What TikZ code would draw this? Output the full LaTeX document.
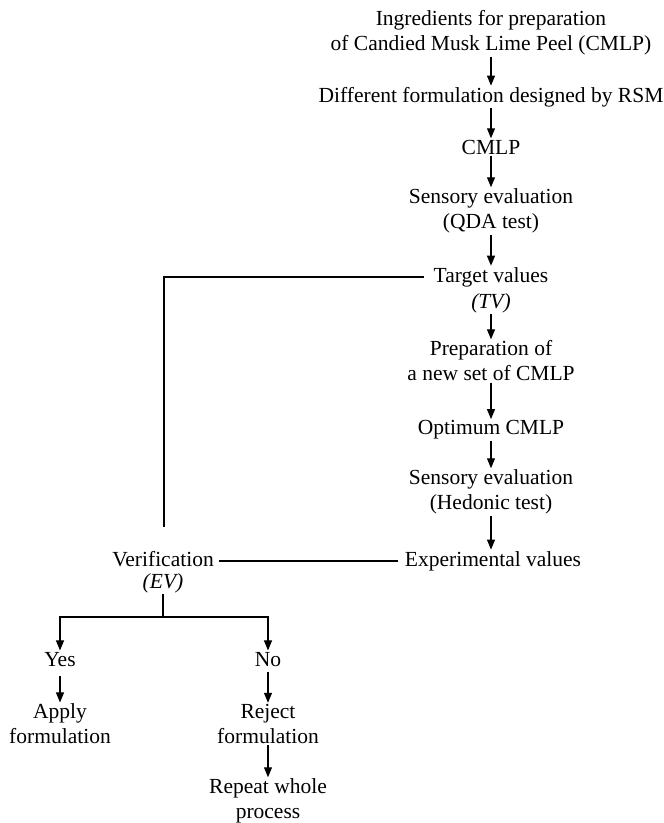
\documentclass[tikz,border=0pt]{standalone}
\usepackage{fontspec}
\setmainfont{Liberation Serif}
\usetikzlibrary{arrows.meta}
\tikzset{
  lbl/.style={align=center, inner sep=1.5pt, outer sep=0pt, font=\fontsize{21.5}{25}\selectfont},
  conn/.style={line width=1.1pt},
  arr/.style={conn, -{Triangle[length=10pt,width=8pt]}}
}
\begin{document}
\begin{tikzpicture}[x=1pt,y=-1pt]
\useasboundingbox (0,0) rectangle (664,823);
\node[lbl] (ing) at (491,33) {Ingredients for preparation\\of Candied Musk Lime Peel (CMLP)};
\node[lbl] (dif) at (491,97) {Different formulation designed by RSM};
\node[lbl] (cmlp) at (491,147) {CMLP};
\node[lbl] (sen1) at (491,211) {Sensory evaluation\\(QDA test)};
\node[lbl] (tv) at (491,277) {Target values};
\node[lbl] (tvi) at (491,303) {\textit{(TV)}};
\node[lbl] (prep) at (491,361) {Preparation of\\a new set of CMLP};
\node[lbl] (opt) at (491,430) {Optimum CMLP};
\node[lbl] (sen2) at (491,492) {Sensory evaluation\\(Hedonic test)};
\node[lbl, anchor=base] (exp) at (493,566) {Experimental values};
\node[lbl, anchor=base] (ver) at (163,566) {Verification};
\node[lbl] (evi) at (163,583) {\textit{(EV)}};
\node[lbl, anchor=base] (yes) at (60,666) {Yes};
\node[lbl, anchor=base] (no) at (268,666) {No};
\node[lbl] (apply) at (60,724) {Apply\\formulation};
\node[lbl] (reject) at (268,724) {Reject\\formulation};
\node[lbl] (repeat) at (268,801) {Repeat whole\\process};
\coordinate (lend) at (164,527);
\coordinate (split) at (163,617);

\draw[arr] (ing) -- (dif);
\draw[arr] (dif) -- (cmlp);
\draw[arr] (cmlp) -- (sen1);
\draw[arr] (sen1) -- (tv);
\draw[arr] (tvi) -- (prep);
\draw[arr] (prep) -- (opt);
\draw[arr] (opt) -- (sen2);
\draw[arr] (sen2.south) -- (sen2.south |- exp.north);
\draw[conn] ([xshift=-8pt]tv.west) -| (lend);
\draw[conn] ([xshift=4pt,yshift=5pt]ver.base east) -- ([xshift=-5pt,yshift=5pt]exp.base west);
\draw[conn] (evi.south) -- (split);
\draw[arr] (split) -| (yes);
\draw[arr] (split) -| (no);
\draw[arr, shorten <=8pt] (yes) -- (apply);
\draw[arr, shorten <=4pt] (no) -- (reject);
\draw[arr] (reject) -- (repeat);
\end{tikzpicture}
\end{document}
